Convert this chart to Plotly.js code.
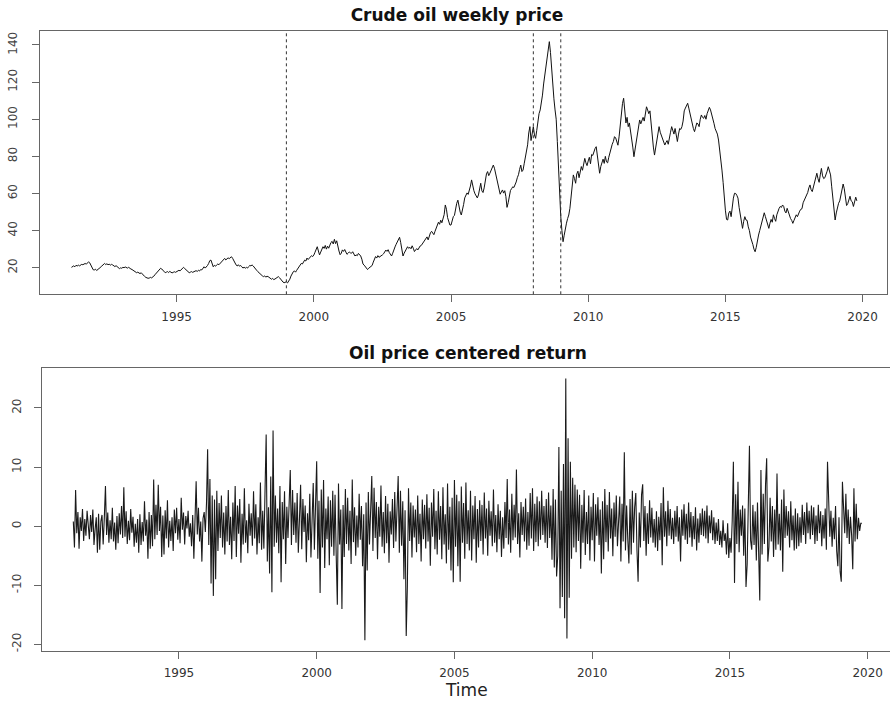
<!DOCTYPE html>
<html><head><meta charset="utf-8">
<script src="https://cdn.plot.ly/plotly-3.0.1.min.js"></script>
<style>html,body{margin:0;padding:0;background:#fff}</style>
</head><body><div id="chart" style="width:890px;height:701px"></div>
<script>
// weekly series sampled twice a month, starting March 1991
const startYear = 1991, startPeriod = 4, freq = 24;

const price = [
20.2,20.8,21.0,20.5,21.3,20.9,21.4,21.0,21.5,21.8,21.6,22.0,22.3,21.9,22.7,23.2,22.6,21.5,20.0,18.9,
18.8,19.2,18.5,18.9,19.5,20.0,20.6,21.2,21.8,22.3,21.7,22.1,21.6,21.9,21.4,21.8,21.5,21.0,20.6,21.1,20.4,19.8,19.5,19.9,
19.7,20.2,20.0,20.4,20.1,19.8,20.2,19.6,19.3,19.0,18.6,18.1,17.9,17.3,17.6,17.0,16.8,17.3,16.5,15.9,15.3,14.8,14.5,14.3,
14.4,14.8,14.5,14.9,15.4,16.2,16.9,17.5,18.3,19.1,19.7,19.3,18.4,17.8,17.3,17.6,17.9,17.4,18.0,17.6,17.2,17.5,17.8,17.5,
17.8,18.2,18.6,18.3,18.9,19.5,20.2,19.6,19.0,18.4,17.6,17.3,17.6,17.9,17.5,17.8,18.1,18.4,18.0,18.6,18.2,19.0,18.8,19.6,
20.5,19.8,20.4,21.2,22.3,23.8,24.1,21.8,20.5,21.3,20.8,21.5,22.0,21.6,22.4,23.1,24.0,24.6,25.0,24.2,24.8,25.3,24.9,25.4,
25.9,25.0,23.6,22.4,21.5,20.9,21.6,20.8,21.2,20.5,19.8,20.3,19.7,20.2,19.8,20.6,21.2,21.0,21.5,20.9,20.3,19.6,18.6,17.9,
17.2,16.6,16.1,15.6,15.2,15.6,14.9,15.4,15.2,14.6,14.1,13.8,14.2,13.6,13.9,14.3,14.8,15.2,14.6,13.6,12.9,12.3,11.9,12.3,
12.4,11.8,12.5,13.8,15.5,17.0,17.8,18.3,17.6,18.6,19.5,20.4,21.0,22.3,22.0,23.4,24.1,23.6,25.2,24.4,25.1,25.9,26.5,26.0,
26.8,28.3,29.6,31.3,29.0,26.9,28.4,29.5,31.3,30.4,32.0,30.0,31.6,30.5,32.3,33.6,34.2,32.8,35.3,33.0,34.5,31.2,29.0,27.0,
27.8,29.6,28.8,29.8,28.0,27.2,27.8,28.5,28.0,27.8,28.6,27.4,26.3,26.9,26.5,27.7,27.0,26.3,24.6,22.0,21.4,20.6,19.7,19.0,
19.7,20.3,20.5,21.2,23.0,24.6,26.0,25.2,26.5,25.6,25.9,26.6,26.9,27.5,28.3,29.5,28.8,29.7,28.2,26.8,26.3,27.8,29.9,31.2,
32.6,34.0,35.6,36.4,33.5,29.0,26.3,27.8,29.0,30.0,31.3,30.4,31.0,30.2,31.8,30.5,28.7,29.5,30.3,29.6,30.9,31.7,32.0,32.8,
34.0,34.6,35.4,36.6,35.0,37.2,38.8,39.6,38.4,37.8,39.6,41.2,42.8,44.5,43.4,45.6,44.2,46.3,48.6,53.8,51.5,47.0,44.6,43.0,
43.0,45.4,47.5,48.2,53.0,54.7,56.4,52.2,50.0,48.4,50.6,54.0,57.6,58.8,60.3,59.5,61.4,64.0,67.3,63.6,61.5,59.8,58.4,57.6,
59.2,62.8,65.5,61.4,60.5,63.0,66.8,70.5,71.8,69.6,70.9,72.6,74.3,75.3,73.6,71.0,68.0,64.2,61.9,59.6,60.8,61.9,60.2,61.5,
58.3,52.5,55.0,59.8,61.6,62.6,63.6,63.2,64.5,66.2,68.5,70.1,73.0,75.3,71.8,72.6,76.0,80.0,81.6,86.2,92.6,96.0,88.5,92.0,
96.0,91.5,89.7,94.0,100.0,103.0,105.0,108.0,113.0,119.0,124.0,128.3,133.0,138.0,141.8,136.0,126.0,116.0,111.0,105.0,100.0,88.0,72.0,58.0,
47.5,40.0,34.0,37.5,42.1,44.0,46.5,48.4,52.0,58.0,63.5,70.0,68.0,65.5,70.5,72.0,68.5,71.0,74.5,72.5,76.0,78.9,76.5,75.0,
77.5,79.5,76.0,81.0,80.5,83.0,84.2,85.2,80.5,74.0,70.9,74.5,76.0,78.5,76.2,80.0,77.0,76.5,79.5,82.5,84.5,86.5,88.0,90.6,
90.0,88.0,86.0,90.5,98.0,104.0,108.5,111.3,106.0,98.0,101.0,96.0,98.0,94.0,91.0,85.0,79.8,84.0,88.0,92.0,95.0,99.6,97.5,99.0,
101.0,99.0,102.0,106.7,105.0,103.0,104.5,97.0,91.0,85.0,80.7,84.0,88.0,92.0,96.0,93.0,91.0,89.0,88.0,86.1,87.5,88.5,86.5,89.0,
93.0,96.0,94.0,92.0,95.0,90.6,88.0,92.0,95.0,94.5,96.0,99.0,104.5,106.0,107.7,108.6,106.0,103.0,100.0,97.0,95.0,93.3,96.0,98.0,
97.5,96.0,100.0,102.3,101.0,100.5,102.0,100.0,103.0,104.5,106.4,105.0,102.0,99.0,97.8,95.0,93.5,92.0,88.8,84.0,78.5,72.6,66.0,57.0,
51.0,46.0,45.7,49.5,50.5,47.5,53.0,57.5,60.1,60.0,59.0,57.5,52.5,48.0,44.0,41.2,45.0,47.5,45.7,45.5,42.0,40.0,36.5,35.0,
32.5,30.0,28.6,31.0,35.0,37.6,40.0,42.5,45.5,48.5,49.6,47.5,45.0,43.0,41.2,44.0,46.0,44.5,48.5,46.5,45.0,48.5,50.5,52.0,
53.0,52.5,53.8,53.0,50.5,49.5,52.0,50.0,49.0,46.5,45.5,43.9,45.5,47.0,48.5,47.5,49.5,50.5,51.5,51.8,55.0,56.5,57.5,58.5,
60.5,63.0,64.6,62.0,61.0,63.5,66.0,68.0,70.9,68.0,66.0,70.0,73.5,69.5,68.0,68.5,70.0,72.0,74.4,72.5,70.0,63.6,56.0,50.0,
45.7,49.5,52.5,54.7,56.0,59.0,63.5,65.1,62.5,58.0,53.5,54.5,57.5,58.5,56.0,55.5,53.0,56.0,58.0,56.0
];

const centeredReturn = [
0.8,-3.6,6.1,-1.2,2.4,-3.8,1.5,-0.8,2.9,-2.5,1.2,-1.6,2.6,0.3,-2.2,1.9,-1.0,2.8,-3.2,-0.5,
1.5,-4.5,2.1,-4.0,0.8,1.9,-3.1,1.4,6.8,-1.5,2.3,-2.8,1.0,-2.2,3.1,-2.6,0.6,-4.0,1.7,-2.9,2.2,-1.4,3.4,-2.0,
6.6,-1.8,2.5,-3.0,0.9,-2.4,2.9,-1.1,1.6,-3.5,0.4,-2.8,1.2,-4.5,2.0,-3.2,0.7,-2.6,4.2,-1.6,1.1,-5.5,2.4,-3.8,
1.9,-3.4,7.9,-2.2,3.6,-1.5,7.0,-0.8,3.3,-5.2,1.8,-4.8,2.7,-2.1,4.4,-3.6,0.9,-2.5,1.5,-4.2,2.8,-1.2,3.1,-2.3,
1.2,-2.9,4.8,-0.6,2.3,-3.1,1.7,-0.4,2.6,-1.8,0.5,-3.4,1.9,-5.5,2.8,7.6,-1.4,3.1,-2.6,0.8,-6.0,1.3,2.4,-1.0,
3.8,13.0,-3.2,8.0,-9.7,5.2,-11.8,4.5,-9.0,6.0,-4.2,3.9,-2.0,5.2,-3.6,2.3,-4.8,3.4,-2.6,6.1,-3.2,1.6,-5.6,4.0,
-2.5,6.8,-5.2,3.5,-1.3,4.6,-6.2,2.1,-3.1,6.4,-2.8,1.0,-4.6,3.8,-1.6,2.2,-3.3,5.9,-2.1,3.7,-4.8,1.5,-2.9,7.4,
-4.0,2.6,-3.8,6.5,15.5,-6.0,3.2,-8.0,8.4,-11.2,16.2,-3.5,5.2,-2.8,3.0,-4.6,6.8,-9.5,4.1,-2.2,5.9,-6.4,3.3,-2.0,
4.8,9.5,-3.2,6.1,-1.5,4.0,-2.8,5.6,-4.5,1.6,7.0,-3.9,4.6,-1.0,3.5,-6.1,2.2,-2.4,5.5,-5.3,3.1,7.3,-4.0,2.5,
11.0,-5.5,4.3,-11.3,6.2,-3.6,7.8,-7.1,3.0,-2.2,5.0,-6.6,4.4,-3.5,6.0,-5.0,5.3,-4.8,-13.3,7.2,-3.1,2.8,-14.0,3.6,
-5.2,6.3,-3.0,4.8,-4.1,2.6,-6.4,7.9,-2.7,3.2,-5.0,1.8,-3.6,5.5,-2.3,3.4,-6.8,2.0,-19.3,4.0,-7.5,5.8,-3.1,2.6,
8.5,-4.2,6.5,-2.0,4.1,-5.6,3.3,-1.8,6.9,-3.5,2.4,-4.6,5.1,-2.9,3.8,-6.2,2.5,-1.4,4.6,-3.7,5.8,-2.6,3.2,8.5,
-4.5,6.0,-3.3,4.2,-9.0,2.7,-18.6,-10.2,6.4,-2.5,4.0,-5.3,3.5,-1.9,2.8,-4.4,5.2,-3.0,2.1,-6.0,4.5,-2.2,3.6,-3.8,
5.4,-2.6,3.1,-6.7,4.0,-1.8,6.3,-3.9,2.6,-4.8,5.9,-2.3,3.4,-5.6,6.6,-3.1,2.0,-6.3,7.2,-4.0,3.3,-7.5,4.8,-9.5,
7.8,-3.5,5.3,-6.8,4.2,-9.4,6.7,-2.8,3.9,-5.5,7.4,-3.0,2.7,-4.1,6.0,-5.8,3.5,-2.2,5.1,-6.2,2.9,-3.6,4.4,-2.5,
3.6,-4.8,5.7,-2.1,3.0,-5.0,4.3,-1.6,2.5,-3.4,6.2,-2.8,1.9,-4.4,3.7,-2.2,2.6,-5.2,1.5,-3.8,4.1,-2.0,8.0,-3.1,
2.8,-4.5,5.5,-2.4,3.6,-1.9,9.6,-3.0,2.2,-5.3,4.1,-1.5,3.3,-2.6,4.7,-4.0,2.4,-3.3,5.6,-2.1,6.4,-4.2,3.8,-2.7,
5.0,-3.4,4.2,-2.3,6.0,-1.5,3.4,-2.8,4.6,-3.7,5.7,-2.0,3.5,-5.7,6.3,-7.0,4.5,-8.5,-5.0,13.4,-13.9,6.0,-12.0,10.5,
-15.6,25.0,-19.0,14.9,-12.1,10.9,-5.5,8.2,-3.6,7.0,-4.4,6.2,-2.5,5.3,-7.2,3.6,-2.8,6.1,-4.9,2.4,-3.0,5.2,-5.8,3.3,
-2.4,5.6,-6.0,3.7,-1.6,4.9,-3.2,2.8,-8.0,4.2,-5.6,6.3,-2.7,3.6,-4.3,5.8,-2.1,3.0,-5.1,4.0,-1.8,5.2,-3.4,2.5,
5.0,-6.0,3.8,-2.6,12.5,-4.1,3.5,-2.2,-6.3,4.6,-4.8,6.0,-2.8,3.2,5.6,-4.0,-9.4,2.3,-3.6,5.3,7.1,-2.5,3.4,-5.0,
2.2,-3.0,4.4,-1.9,3.1,-2.8,1.2,-3.6,2.5,-4.2,1.6,-2.4,3.9,-6.6,6.6,-1.8,2.5,-3.4,4.3,-1.6,2.9,-2.2,1.4,-3.0,
2.6,-1.8,3.4,-2.6,1.5,-6.0,2.8,-1.6,3.7,-2.3,2.1,-3.0,4.0,-1.9,2.4,-3.5,1.7,-2.2,3.2,-4.1,1.3,-2.8,2.2,-1.5,
3.0,-1.7,2.6,-2.1,3.5,-2.9,1.8,-1.2,2.7,-2.4,1.5,-3.0,0.6,-2.5,1.2,-3.2,-0.8,-3.6,1.0,-2.5,-1.2,-4.8,0.5,-5.4,
-2.0,-4.5,1.0,10.9,-9.6,5.4,-3.0,7.5,-4.4,2.8,-1.6,3.5,-5.0,3.0,-10.3,-6.5,5.3,13.6,-2.4,-4.0,3.6,-3.2,2.5,-5.8,
4.0,-6.5,-12.6,9.5,-4.8,5.5,-3.0,7.0,11.5,-6.0,-3.5,4.8,-2.6,3.4,-5.2,2.8,-4.0,8.9,-3.1,2.1,-4.1,4.5,-7.7,6.2,
-2.0,3.4,-1.6,2.5,-3.6,4.2,-2.4,1.8,-4.1,3.0,-3.8,2.2,-3.4,1.5,-2.8,3.6,-1.5,2.4,-3.0,4.0,-1.2,2.6,-2.2,3.5,
-1.5,3.2,-3.0,1.8,-2.5,3.6,-1.2,2.5,-3.4,1.9,-2.1,3.0,-4.0,10.9,2.2,-1.8,2.6,-3.5,1.4,-2.2,3.4,-4.2,-6.8,1.5,
-7.7,-9.4,7.5,3.4,-1.2,5.5,-2.0,2.8,-3.0,1.6,-1.5,-7.3,6.4,-2.6,3.8,-2.2,1.4,-0.8,0.5,0.5
];

const breakYears = [1999, 2008, 2009];
const yearTicks = [1995, 2000, 2005, 2010, 2015, 2020];
const priceTicks = [20, 40, 60, 80, 100, 120, 140];
const returnTicks = [-20, -10, 0, 10, 20];

const timeOf = i => startYear + (startPeriod + i) / freq;
const tPrice = price.map((_, i) => timeOf(i));
const tRet = centeredReturn.map((_, i) => timeOf(i));

const W = 890, H = 701;
const tickFont = {family: 'DejaVu Sans, Arial, sans-serif', size: 12, color: '#333'};
const axisCommon = {
  showgrid: false, zeroline: false, showline: true, mirror: true,
  linecolor: '#666', linewidth: 1, ticks: 'outside', ticklen: 7,
  tickcolor: '#666', tickwidth: 1, tickfont: tickFont, fixedrange: true
};

const traces = [
  {x: tPrice, y: price, xaxis: 'x', yaxis: 'y', type: 'scatter', mode: 'lines',
   line: {color: '#111', width: 1}, hoverinfo: 'skip'},
  {x: tRet, y: centeredReturn, xaxis: 'x2', yaxis: 'y2', type: 'scatter', mode: 'lines',
   line: {color: '#1a1a1a', width: 1.1}, hoverinfo: 'skip'}
];

const shapes = breakYears.map(b => ({
  type: 'line', xref: 'x', yref: 'y domain', x0: b, x1: b, y0: 0, y1: 1,
  line: {color: '#333', width: 1, dash: '3px,3px'}
}));

const layout = {
  width: W, height: H, autosize: false,
  margin: {l: 0, r: 0, t: 0, b: 0, pad: 0},
  paper_bgcolor: '#fff', plot_bgcolor: '#fff', showlegend: false,
  title: {text: 'Crude oil weekly price', x: 457 / W, xref: 'paper', xanchor: 'center',
          y: 1 - 15 / H, yref: 'paper', yanchor: 'middle',
          font: {family: 'DejaVu Sans, Arial, sans-serif', size: 17, weight: 'bold', color: '#111'}},
  xaxis: Object.assign({}, axisCommon, {
    domain: [40 / W, 887 / W], range: [1990.02, 2020.89], anchor: 'y',
    tickmode: 'array', tickvals: yearTicks, ticktext: yearTicks.map(String), ticklabelstandoff: 4
  }),
  yaxis: Object.assign({}, axisCommon, {
    domain: [1 - 294.3 / H, 1 - 30.7 / H], range: [5.67, 147.7], anchor: 'x',
    tickmode: 'array', tickvals: priceTicks, ticktext: priceTicks.map(String),
    tickangle: -90, ticklabelstandoff: 10, tickfont: Object.assign({}, tickFont, {color: '#444'})
  }),
  xaxis2: Object.assign({}, axisCommon, {
    domain: [42 / W, 1], range: [1990.03, 2020.81], anchor: 'y2',
    tickmode: 'array', tickvals: yearTicks, ticktext: yearTicks.map(String), ticklabelstandoff: 4
  }),
  yaxis2: Object.assign({}, axisCommon, {
    domain: [1 - 651 / H, 1 - 367.7 / H], range: [-21.13, 26.82], anchor: 'x2',
    tickmode: 'array', tickvals: returnTicks, ticktext: returnTicks.map(String),
    tickangle: -90, ticklabelstandoff: 8, tickfont: Object.assign({}, tickFont, {color: '#444'})
  }),
  shapes: shapes,
  annotations: [
    {text: '<b>Oil price centered return</b>', xref: 'paper', yref: 'paper',
     x: 468 / W, y: 1 - 352.7 / H, xanchor: 'center', yanchor: 'middle', showarrow: false,
     font: {family: 'DejaVu Sans, Arial, sans-serif', size: 17, color: '#111'}},
    {text: 'Time', xref: 'paper', yref: 'paper',
     x: 466.5 / W, y: 1 - 690 / H, xanchor: 'center', yanchor: 'middle', showarrow: false,
     font: {family: 'DejaVu Sans, Arial, sans-serif', size: 17, color: '#222'}}
  ]
};

Plotly.newPlot('chart', traces, layout, {displayModeBar: false, staticPlot: true});
</script>
</body></html>
